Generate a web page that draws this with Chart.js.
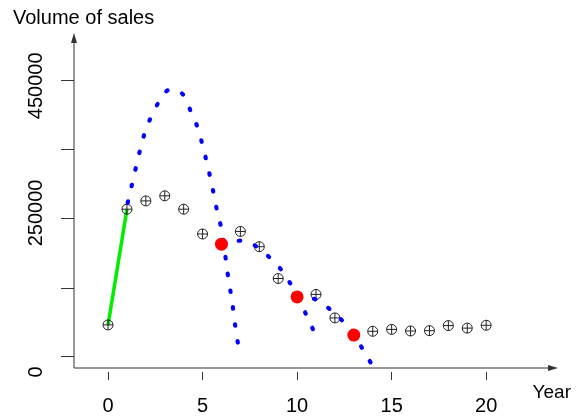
<!DOCTYPE html>
<html>
<head>
<meta charset="utf-8">
<script src="https://cdn.jsdelivr.net/npm/chart.js@4"></script>
<style>
  html, body { margin: 0; padding: 0; background: #fff; }
  #wrap { width: 579px; height: 418px; }
</style>
</head>
<body>
<div id="wrap"><canvas id="sales"></canvas></div>
<script>
/* VENTAS OBSERVADAS (año 0..20) */
const years = [0, 1, 2, 3, 4, 5, 6, 7, 8, 9, 10, 11, 12, 13, 14, 15, 16, 17, 18, 19, 20]
const sales = [74000, 256000, 269000, 277000, 256000, 217000, 201000, 221000, 197000, 147000, 118000,
               122000, 85000, 58000, 64000, 67000, 64500, 65000, 73000, 69000, 73500]

/* puntos de re-estimacion */
const refitYears = [6, 10, 13]
const refitSales = [201000, 118000, 58000]

/* tramo inicial */
const startYears = [0, 1]
const startSales = [74000, 256000]

/* curvas de pronostico */
const fit1Years = [1.04, 1.25, 1.92, 2.26, 2.70, 3.23, 4.04, 4.39, 4.75, 5.43, 5.62, 5.80, 6.02, 6.28, 6.40, 6.56, 6.67, 6.81, 6.95]
const fit1Sales = [266000, 293000, 374000, 400000, 425000, 443500, 434000, 408500, 383000, 303000, 275700, 248500,
                   221800, 165600, 139500, 112200, 84900, 56600, 29900]
const fit2Years = [6.03, 7.02, 7.87, 8.57, 9.19, 9.72, 10.16, 10.53, 10.92]
const fit2Sales = [201300, 206500, 197100, 179300, 159700, 135300, 110600, 87000, 61800]
const fit3Years = [10.0, 10.95, 11.75, 12.45, 13.03, 13.51, 14.0]
const fit3Sales = [118000, 114400, 98300, 78700, 58200, 33800, 9400]

/* ejes */
const xTicks = [0, 5, 10, 15, 20]
const yTickMarks = [23600, 132000, 241000, 350000, 459000]
const yLabelValues = [0, 250000, 450000]
const yLabelTexts = ["0", "250000", "450000"]

const FONT = "'Liberation Sans', Arial, sans-serif"
const AXIS_COLOR = "#333"

function toPoints(xs, ys) {
    let out = []
    for (let i = 0; i < xs.length; i++) {
        out.push({ x: xs[i], y: ys[i] })
    }
    return out
}

function curveDataset(xs, ys) {
    return {
        type: "line",
        data: toPoints(xs, ys),
        borderColor: "#0000ff",
        borderWidth: 4.2,
        borderDash: [1.5, 15.5],
        borderCapStyle: "round",
        cubicInterpolationMode: "monotone",
        pointRadius: 0,
        fill: false,
        order: 1
    }
}

/* flechas de los ejes y etiqueta "Year" */
const axisArrows = {
    id: "axisArrows",
    beforeDatasetsDraw(chart) {
        const ctx = chart.ctx
        const area = chart.chartArea
        const baseY = area.bottom - 4
        ctx.save()
        ctx.strokeStyle = AXIS_COLOR
        ctx.fillStyle = AXIS_COLOR
        ctx.lineWidth = 1

        ctx.beginPath()
        ctx.moveTo(area.left, baseY)
        ctx.lineTo(area.left, area.top + 6)
        ctx.moveTo(area.left, baseY)
        ctx.lineTo(area.right - 6, baseY)
        ctx.stroke()

        ctx.beginPath()
        ctx.moveTo(area.left, area.top)
        ctx.lineTo(area.left - 3, area.top + 10)
        ctx.lineTo(area.left + 3, area.top + 10)
        ctx.closePath()
        ctx.fill()

        ctx.beginPath()
        ctx.moveTo(area.right, baseY)
        ctx.lineTo(area.right - 10, baseY - 3)
        ctx.lineTo(area.right - 10, baseY + 3)
        ctx.closePath()
        ctx.fill()

        ctx.fillStyle = "#000"
        ctx.font = "19px " + FONT
        ctx.textAlign = "right"
        ctx.textBaseline = "middle"
        ctx.fillText("Year", area.right + 13, area.bottom + 21)
        ctx.restore()
    }
}

const yAllTicks = yTickMarks.concat(yLabelValues).sort((a, b) => a - b)

new Chart(document.getElementById("sales").getContext("2d"), {
    data: {
        datasets: [
            {
                type: "scatter",
                data: toPoints(refitYears, refitSales),
                backgroundColor: "#ff0000",
                borderWidth: 0,
                pointRadius: 6.5,
                order: 0
            },
            curveDataset(fit1Years, fit1Sales),
            curveDataset(fit2Years, fit2Sales),
            curveDataset(fit3Years, fit3Sales),
            {
                type: "scatter",
                data: toPoints(years, sales),
                pointStyle: "circle",
                backgroundColor: "transparent",
                borderColor: "#222",
                borderWidth: 1,
                pointRadius: 5,
                order: 2
            },
            {
                type: "scatter",
                data: toPoints(years, sales),
                pointStyle: "cross",
                borderColor: "#222",
                borderWidth: 1,
                pointRadius: 5,
                order: 2
            },
            {
                type: "line",
                data: toPoints(startYears, startSales),
                borderColor: "#00ee00",
                borderWidth: 3.5,
                pointRadius: 0,
                fill: false,
                order: 3
            }
        ]
    },
    options: {
        responsive: true,
        maintainAspectRatio: false,
        animation: false,
        layout: { padding: { left: 13, right: 21, top: 0, bottom: 0 } },
        plugins: {
            legend: { display: false },
            tooltip: { enabled: false },
            title: {
                display: true,
                text: "Volume of sales",
                align: "start",
                color: "#000",
                font: { family: FONT, size: 20, weight: "normal" },
                padding: { top: 6, bottom: 3 }
            }
        },
        scales: {
            x: {
                type: "linear",
                min: -1.8,
                max: 23.8,
                border: { display: false },
                grid: { drawOnChartArea: false, tickLength: 8, color: AXIS_COLOR },
                afterBuildTicks: (scale) => { scale.ticks = xTicks.map(v => ({ value: v })) },
                afterFit: (scale) => { scale.height = 46 },
                ticks: {
                    autoSkip: false,
                    maxRotation: 0,
                    padding: 14,
                    color: "#000",
                    font: { family: FONT, size: 20 },
                    callback: (v) => String(v)
                }
            },
            y: {
                type: "linear",
                min: 0,
                max: 533000,
                border: { display: false },
                grid: {
                    drawOnChartArea: false,
                    tickLength: 13,
                    tickColor: (c) => (c.tick && yTickMarks.includes(c.tick.value)) ? AXIS_COLOR : "rgba(0,0,0,0)"
                },
                afterBuildTicks: (scale) => { scale.ticks = yAllTicks.map(v => ({ value: v })) },
                afterFit: (scale) => { scale.width = 61 },
                ticks: {
                    autoSkip: false,
                    minRotation: 90,
                    maxRotation: 90,
                    crossAlign: "center",
                    padding: -9,
                    color: "#000",
                    font: { family: FONT, size: 20 },
                    callback: (v) => {
                        let i = yLabelValues.indexOf(v)
                        return i >= 0 ? yLabelTexts[i] : ""
                    }
                }
            }
        }
    },
    plugins: [axisArrows]
})
</script>
</body>
</html>
